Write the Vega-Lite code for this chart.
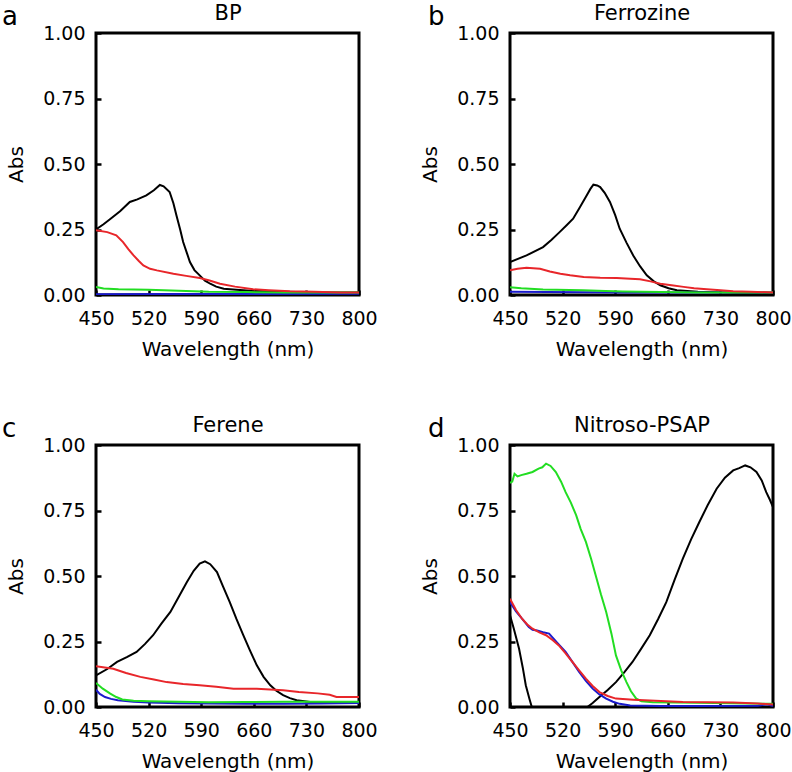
{
"$schema":"https://vega.github.io/schema/vega-lite/v6.json",
"background":"white",
"padding":{"left":0,"top":0,"right":0,"bottom":0},
"config":{
 "view":{"stroke":"black","strokeWidth":3},
 "axis":{"domain":false,"grid":false,"tickSize":-5,"tickWidth":2.5,"tickColor":"black","labelFont":"DejaVu Sans","labelFontSize":19,"labelColor":"black","titleFont":"DejaVu Sans","titleFontSize":20,"titleFontWeight":"normal","titleColor":"black","labelFlush":false,"labelOverlap":false},
 "axisY":{"titlePadding":16,"labelPadding":16},
 "axisX":{"titlePadding":11,"labelPadding":19},
 "line":{"strokeWidth":2}
},
"datasets":{
"bp":[
{"nm":450,"a":0.25,"s":"black"},{"nm":460,"a":0.27,"s":"black"},{"nm":469,"a":0.29,"s":"black"},{"nm":482,"a":0.32,"s":"black"},{"nm":495,"a":0.355,"s":"black"},{"nm":505,"a":0.365,"s":"black"},{"nm":517,"a":0.38,"s":"black"},{"nm":527,"a":0.4,"s":"black"},{"nm":535,"a":0.42,"s":"black"},{"nm":540,"a":0.415,"s":"black"},{"nm":548,"a":0.393,"s":"black"},{"nm":553,"a":0.35,"s":"black"},{"nm":557,"a":0.304,"s":"black"},{"nm":562,"a":0.25,"s":"black"},{"nm":566,"a":0.202,"s":"black"},{"nm":571,"a":0.16,"s":"black"},{"nm":575,"a":0.126,"s":"black"},{"nm":581,"a":0.095,"s":"black"},{"nm":588,"a":0.075,"s":"black"},{"nm":595,"a":0.055,"s":"black"},{"nm":602,"a":0.043,"s":"black"},{"nm":610,"a":0.032,"s":"black"},{"nm":620,"a":0.024,"s":"black"},{"nm":637,"a":0.02,"s":"black"},{"nm":660,"a":0.015,"s":"black"},{"nm":700,"a":0.012,"s":"black"},{"nm":750,"a":0.01,"s":"black"},{"nm":800,"a":0.01,"s":"black"},
{"nm":450,"a":0.003,"s":"blue"},{"nm":550,"a":0.004,"s":"blue"},{"nm":650,"a":0.004,"s":"blue"},{"nm":800,"a":0.005,"s":"blue"},
{"nm":450,"a":0.031,"s":"green"},{"nm":460,"a":0.025,"s":"green"},{"nm":480,"a":0.022,"s":"green"},{"nm":520,"a":0.02,"s":"green"},{"nm":560,"a":0.016,"s":"green"},{"nm":600,"a":0.012,"s":"green"},{"nm":650,"a":0.011,"s":"green"},{"nm":700,"a":0.01,"s":"green"},{"nm":750,"a":0.01,"s":"green"},{"nm":800,"a":0.01,"s":"green"},
{"nm":450,"a":0.247,"s":"red"},{"nm":465,"a":0.24,"s":"red"},{"nm":477,"a":0.228,"s":"red"},{"nm":486,"a":0.202,"s":"red"},{"nm":493,"a":0.175,"s":"red"},{"nm":500,"a":0.151,"s":"red"},{"nm":507,"a":0.13,"s":"red"},{"nm":513,"a":0.113,"s":"red"},{"nm":522,"a":0.1,"s":"red"},{"nm":531,"a":0.094,"s":"red"},{"nm":553,"a":0.081,"s":"red"},{"nm":570,"a":0.073,"s":"red"},{"nm":588,"a":0.065,"s":"red"},{"nm":600,"a":0.056,"s":"red"},{"nm":615,"a":0.043,"s":"red"},{"nm":635,"a":0.032,"s":"red"},{"nm":659,"a":0.022,"s":"red"},{"nm":680,"a":0.018,"s":"red"},{"nm":708,"a":0.014,"s":"red"},{"nm":740,"a":0.012,"s":"red"},{"nm":775,"a":0.01,"s":"red"},{"nm":800,"a":0.01,"s":"red"}
],
"ferrozine":[
{"nm":450,"a":0.126,"s":"black"},{"nm":472,"a":0.151,"s":"black"},{"nm":494,"a":0.183,"s":"black"},{"nm":505,"a":0.21,"s":"black"},{"nm":516,"a":0.24,"s":"black"},{"nm":525,"a":0.265,"s":"black"},{"nm":534,"a":0.291,"s":"black"},{"nm":543,"a":0.335,"s":"black"},{"nm":552,"a":0.38,"s":"black"},{"nm":557,"a":0.405,"s":"black"},{"nm":561,"a":0.421,"s":"black"},{"nm":566,"a":0.418,"s":"black"},{"nm":570,"a":0.412,"s":"black"},{"nm":576,"a":0.39,"s":"black"},{"nm":583,"a":0.355,"s":"black"},{"nm":590,"a":0.305,"s":"black"},{"nm":596,"a":0.253,"s":"black"},{"nm":605,"a":0.2,"s":"black"},{"nm":614,"a":0.151,"s":"black"},{"nm":623,"a":0.11,"s":"black"},{"nm":632,"a":0.075,"s":"black"},{"nm":641,"a":0.053,"s":"black"},{"nm":650,"a":0.037,"s":"black"},{"nm":661,"a":0.026,"s":"black"},{"nm":672,"a":0.018,"s":"black"},{"nm":700,"a":0.012,"s":"black"},{"nm":750,"a":0.009,"s":"black"},{"nm":800,"a":0.008,"s":"black"},
{"nm":450,"a":0.012,"s":"blue"},{"nm":500,"a":0.011,"s":"blue"},{"nm":600,"a":0.01,"s":"blue"},{"nm":700,"a":0.01,"s":"blue"},{"nm":800,"a":0.01,"s":"blue"},
{"nm":450,"a":0.03,"s":"green"},{"nm":465,"a":0.026,"s":"green"},{"nm":494,"a":0.021,"s":"green"},{"nm":547,"a":0.018,"s":"green"},{"nm":577,"a":0.015,"s":"green"},{"nm":600,"a":0.013,"s":"green"},{"nm":650,"a":0.011,"s":"green"},{"nm":700,"a":0.01,"s":"green"},{"nm":800,"a":0.01,"s":"green"},
{"nm":450,"a":0.094,"s":"red"},{"nm":460,"a":0.1,"s":"red"},{"nm":472,"a":0.104,"s":"red"},{"nm":490,"a":0.1,"s":"red"},{"nm":503,"a":0.09,"s":"red"},{"nm":517,"a":0.081,"s":"red"},{"nm":530,"a":0.075,"s":"red"},{"nm":548,"a":0.069,"s":"red"},{"nm":570,"a":0.066,"s":"red"},{"nm":592,"a":0.065,"s":"red"},{"nm":610,"a":0.062,"s":"red"},{"nm":623,"a":0.06,"s":"red"},{"nm":637,"a":0.052,"s":"red"},{"nm":650,"a":0.043,"s":"red"},{"nm":665,"a":0.037,"s":"red"},{"nm":681,"a":0.031,"s":"red"},{"nm":695,"a":0.026,"s":"red"},{"nm":712,"a":0.022,"s":"red"},{"nm":730,"a":0.018,"s":"red"},{"nm":747,"a":0.014,"s":"red"},{"nm":770,"a":0.012,"s":"red"},{"nm":800,"a":0.01,"s":"red"}
],
"ferene":[
{"nm":450,"a":0.121,"s":"black"},{"nm":465,"a":0.145,"s":"black"},{"nm":478,"a":0.172,"s":"black"},{"nm":491,"a":0.19,"s":"black"},{"nm":504,"a":0.21,"s":"black"},{"nm":515,"a":0.24,"s":"black"},{"nm":526,"a":0.274,"s":"black"},{"nm":537,"a":0.318,"s":"black"},{"nm":549,"a":0.363,"s":"black"},{"nm":560,"a":0.42,"s":"black"},{"nm":571,"a":0.477,"s":"black"},{"nm":580,"a":0.52,"s":"black"},{"nm":588,"a":0.547,"s":"black"},{"nm":595,"a":0.556,"s":"black"},{"nm":602,"a":0.545,"s":"black"},{"nm":611,"a":0.515,"s":"black"},{"nm":619,"a":0.46,"s":"black"},{"nm":628,"a":0.4,"s":"black"},{"nm":637,"a":0.335,"s":"black"},{"nm":646,"a":0.274,"s":"black"},{"nm":655,"a":0.215,"s":"black"},{"nm":664,"a":0.159,"s":"black"},{"nm":673,"a":0.115,"s":"black"},{"nm":682,"a":0.083,"s":"black"},{"nm":690,"a":0.062,"s":"black"},{"nm":699,"a":0.045,"s":"black"},{"nm":708,"a":0.034,"s":"black"},{"nm":717,"a":0.026,"s":"black"},{"nm":735,"a":0.019,"s":"black"},{"nm":760,"a":0.016,"s":"black"},{"nm":800,"a":0.015,"s":"black"},
{"nm":450,"a":0.066,"s":"blue"},{"nm":455,"a":0.05,"s":"blue"},{"nm":462,"a":0.038,"s":"blue"},{"nm":470,"a":0.031,"s":"blue"},{"nm":479,"a":0.026,"s":"blue"},{"nm":500,"a":0.02,"s":"blue"},{"nm":520,"a":0.017,"s":"blue"},{"nm":560,"a":0.014,"s":"blue"},{"nm":600,"a":0.013,"s":"blue"},{"nm":650,"a":0.012,"s":"blue"},{"nm":700,"a":0.012,"s":"blue"},{"nm":750,"a":0.013,"s":"blue"},{"nm":800,"a":0.015,"s":"blue"},
{"nm":450,"a":0.092,"s":"green"},{"nm":459,"a":0.07,"s":"green"},{"nm":469,"a":0.051,"s":"green"},{"nm":477,"a":0.038,"s":"green"},{"nm":485,"a":0.029,"s":"green"},{"nm":500,"a":0.024,"s":"green"},{"nm":520,"a":0.022,"s":"green"},{"nm":560,"a":0.02,"s":"green"},{"nm":600,"a":0.018,"s":"green"},{"nm":650,"a":0.019,"s":"green"},{"nm":700,"a":0.02,"s":"green"},{"nm":750,"a":0.02,"s":"green"},{"nm":800,"a":0.02,"s":"green"},
{"nm":450,"a":0.156,"s":"red"},{"nm":473,"a":0.146,"s":"red"},{"nm":490,"a":0.13,"s":"red"},{"nm":509,"a":0.115,"s":"red"},{"nm":527,"a":0.105,"s":"red"},{"nm":544,"a":0.095,"s":"red"},{"nm":566,"a":0.088,"s":"red"},{"nm":588,"a":0.083,"s":"red"},{"nm":610,"a":0.077,"s":"red"},{"nm":633,"a":0.07,"s":"red"},{"nm":664,"a":0.07,"s":"red"},{"nm":699,"a":0.064,"s":"red"},{"nm":720,"a":0.057,"s":"red"},{"nm":745,"a":0.052,"s":"red"},{"nm":761,"a":0.047,"s":"red"},{"nm":770,"a":0.038,"s":"red"},{"nm":800,"a":0.038,"s":"red"}
],
"psap":[
{"nm":450,"a":0.35,"s":"black","p":1},{"nm":455,"a":0.3,"s":"black","p":1},{"nm":462,"a":0.223,"s":"black","p":1},{"nm":467,"a":0.15,"s":"black","p":1},{"nm":471,"a":0.083,"s":"black","p":1},{"nm":476,"a":0.03,"s":"black","p":1},{"nm":479,"a":0.0,"s":"black","p":1},
{"nm":553,"a":0.0,"s":"black","p":2},{"nm":560,"a":0.015,"s":"black","p":2},{"nm":569,"a":0.038,"s":"black","p":2},{"nm":580,"a":0.065,"s":"black","p":2},{"nm":591,"a":0.095,"s":"black","p":2},{"nm":602,"a":0.132,"s":"black","p":2},{"nm":613,"a":0.172,"s":"black","p":2},{"nm":624,"a":0.22,"s":"black","p":2},{"nm":636,"a":0.274,"s":"black","p":2},{"nm":647,"a":0.335,"s":"black","p":2},{"nm":658,"a":0.4,"s":"black","p":2},{"nm":669,"a":0.485,"s":"black","p":2},{"nm":680,"a":0.566,"s":"black","p":2},{"nm":691,"a":0.64,"s":"black","p":2},{"nm":702,"a":0.706,"s":"black","p":2},{"nm":713,"a":0.77,"s":"black","p":2},{"nm":725,"a":0.833,"s":"black","p":2},{"nm":736,"a":0.875,"s":"black","p":2},{"nm":747,"a":0.903,"s":"black","p":2},{"nm":755,"a":0.912,"s":"black","p":2},{"nm":763,"a":0.922,"s":"black","p":2},{"nm":770,"a":0.915,"s":"black","p":2},{"nm":778,"a":0.897,"s":"black","p":2},{"nm":785,"a":0.865,"s":"black","p":2},{"nm":791,"a":0.82,"s":"black","p":2},{"nm":796,"a":0.79,"s":"black","p":2},{"nm":800,"a":0.763,"s":"black","p":2},
{"nm":450,"a":0.4,"s":"blue"},{"nm":458,"a":0.365,"s":"blue"},{"nm":466,"a":0.337,"s":"blue"},{"nm":475,"a":0.305,"s":"blue"},{"nm":480,"a":0.295,"s":"blue"},{"nm":486,"a":0.292,"s":"blue"},{"nm":494,"a":0.285,"s":"blue"},{"nm":502,"a":0.28,"s":"blue"},{"nm":513,"a":0.245,"s":"blue"},{"nm":524,"a":0.21,"s":"blue"},{"nm":533,"a":0.172,"s":"blue"},{"nm":542,"a":0.134,"s":"blue"},{"nm":551,"a":0.1,"s":"blue"},{"nm":560,"a":0.07,"s":"blue"},{"nm":569,"a":0.048,"s":"blue"},{"nm":578,"a":0.032,"s":"blue"},{"nm":587,"a":0.02,"s":"blue"},{"nm":596,"a":0.012,"s":"blue"},{"nm":610,"a":0.006,"s":"blue"},{"nm":650,"a":0.004,"s":"blue"},{"nm":700,"a":0.004,"s":"blue"},{"nm":780,"a":0.005,"s":"blue"},{"nm":792,"a":0.01,"s":"blue"},{"nm":800,"a":0.004,"s":"blue"},
{"nm":450,"a":0.855,"s":"green"},{"nm":453,"a":0.86,"s":"green"},{"nm":456,"a":0.89,"s":"green"},{"nm":460,"a":0.88,"s":"green"},{"nm":465,"a":0.885,"s":"green"},{"nm":472,"a":0.89,"s":"green"},{"nm":480,"a":0.897,"s":"green"},{"nm":488,"a":0.91,"s":"green"},{"nm":493,"a":0.915,"s":"green"},{"nm":498,"a":0.929,"s":"green"},{"nm":504,"a":0.92,"s":"green"},{"nm":511,"a":0.897,"s":"green"},{"nm":518,"a":0.86,"s":"green"},{"nm":524,"a":0.82,"s":"green"},{"nm":531,"a":0.78,"s":"green"},{"nm":538,"a":0.732,"s":"green"},{"nm":544,"a":0.68,"s":"green"},{"nm":551,"a":0.63,"s":"green"},{"nm":558,"a":0.565,"s":"green"},{"nm":564,"a":0.503,"s":"green"},{"nm":571,"a":0.43,"s":"green"},{"nm":578,"a":0.363,"s":"green"},{"nm":585,"a":0.28,"s":"green"},{"nm":591,"a":0.197,"s":"green"},{"nm":598,"a":0.14,"s":"green"},{"nm":605,"a":0.095,"s":"green"},{"nm":611,"a":0.06,"s":"green"},{"nm":618,"a":0.032,"s":"green"},{"nm":625,"a":0.022,"s":"green"},{"nm":640,"a":0.018,"s":"green"},{"nm":700,"a":0.016,"s":"green"},{"nm":800,"a":0.012,"s":"green"},
{"nm":450,"a":0.413,"s":"red"},{"nm":458,"a":0.37,"s":"red"},{"nm":466,"a":0.337,"s":"red"},{"nm":473,"a":0.315,"s":"red"},{"nm":480,"a":0.299,"s":"red"},{"nm":489,"a":0.285,"s":"red"},{"nm":498,"a":0.274,"s":"red"},{"nm":507,"a":0.255,"s":"red"},{"nm":515,"a":0.235,"s":"red"},{"nm":524,"a":0.205,"s":"red"},{"nm":533,"a":0.172,"s":"red"},{"nm":542,"a":0.14,"s":"red"},{"nm":551,"a":0.108,"s":"red"},{"nm":560,"a":0.08,"s":"red"},{"nm":569,"a":0.057,"s":"red"},{"nm":580,"a":0.042,"s":"red"},{"nm":591,"a":0.032,"s":"red"},{"nm":614,"a":0.028,"s":"red"},{"nm":636,"a":0.025,"s":"red"},{"nm":680,"a":0.019,"s":"red"},{"nm":747,"a":0.017,"s":"red"},{"nm":780,"a":0.013,"s":"red"},{"nm":800,"a":0.01,"s":"red"}
]
},
"columns":2,
"spacing":{"row":150,"column":151},
"bounds":"flush",
"concat":[
 {"width":263,"height":262,"resolve":{"axis":{"x":"independent","y":"independent"}},"layer":[
  {"data":{"name":"bp"},"mark":{"type":"line","clip":true},"encoding":{
   "x":{"field":"nm","type":"quantitative","scale":{"domain":[450,800],"nice":false},"axis":{"values":[450,520,590,660,730,800],"title":"Wavelength (nm)"}},
   "y":{"field":"a","type":"quantitative","scale":{"domain":[0,1],"nice":false},"axis":{"values":[0,0.25,0.5,0.75,1],"format":".2f","title":"Abs"}},
   "color":{"field":"s","type":"nominal","scale":{"domain":["black","blue","green","red"],"range":["#000000","#1a1acc","#22dd22","#e8262a"]},"legend":null},
   "detail":{"field":"p"}}},
  {"data":{"values":[{"lab":"a"}]},"mark":{"type":"text","font":"DejaVu Sans","fontSize":26,"align":"left","baseline":"alphabetic","color":"black"},"encoding":{
   "x":{"datum":325,"type":"quantitative","axis":{"orient":"top","labels":false,"ticks":false,"domain":false,"title":"BP","titleFontSize":21,"titlePadding":10}},
   "y":{"datum":1.03,"type":"quantitative","axis":null},"text":{"field":"lab"}}}
 ]},
 {"width":263,"height":262,"resolve":{"axis":{"x":"independent","y":"independent"}},"layer":[
  {"data":{"name":"ferrozine"},"mark":{"type":"line","clip":true},"encoding":{
   "x":{"field":"nm","type":"quantitative","scale":{"domain":[450,800],"nice":false},"axis":{"values":[450,520,590,660,730,800],"title":"Wavelength (nm)"}},
   "y":{"field":"a","type":"quantitative","scale":{"domain":[0,1],"nice":false},"axis":{"values":[0,0.25,0.5,0.75,1],"format":".2f","title":"Abs"}},
   "color":{"field":"s","type":"nominal","scale":{"domain":["black","blue","green","red"],"range":["#000000","#1a1acc","#22dd22","#e8262a"]},"legend":null},
   "detail":{"field":"p"}}},
  {"data":{"values":[{"lab":"b"}]},"mark":{"type":"text","font":"DejaVu Sans","fontSize":26,"align":"left","baseline":"alphabetic","color":"black"},"encoding":{
   "x":{"datum":341,"type":"quantitative","axis":{"orient":"top","labels":false,"ticks":false,"domain":false,"title":"Ferrozine","titleFontSize":21,"titlePadding":10}},
   "y":{"datum":1.03,"type":"quantitative","axis":null},"text":{"field":"lab"}}}
 ]},
 {"width":263,"height":262,"resolve":{"axis":{"x":"independent","y":"independent"}},"layer":[
  {"data":{"name":"ferene"},"mark":{"type":"line","clip":true},"encoding":{
   "x":{"field":"nm","type":"quantitative","scale":{"domain":[450,800],"nice":false},"axis":{"values":[450,520,590,660,730,800],"title":"Wavelength (nm)"}},
   "y":{"field":"a","type":"quantitative","scale":{"domain":[0,1],"nice":false},"axis":{"values":[0,0.25,0.5,0.75,1],"format":".2f","title":"Abs"}},
   "color":{"field":"s","type":"nominal","scale":{"domain":["black","blue","green","red"],"range":["#000000","#1a1acc","#22dd22","#e8262a"]},"legend":null},
   "detail":{"field":"p"}}},
  {"data":{"values":[{"lab":"c"}]},"mark":{"type":"text","font":"DejaVu Sans","fontSize":26,"align":"left","baseline":"alphabetic","color":"black"},"encoding":{
   "x":{"datum":325,"type":"quantitative","axis":{"orient":"top","labels":false,"ticks":false,"domain":false,"title":"Ferene","titleFontSize":21,"titlePadding":10}},
   "y":{"datum":1.03,"type":"quantitative","axis":null},"text":{"field":"lab"}}}
 ]},
 {"width":263,"height":262,"resolve":{"axis":{"x":"independent","y":"independent"}},"layer":[
  {"data":{"name":"psap"},"mark":{"type":"line","clip":true},"encoding":{
   "x":{"field":"nm","type":"quantitative","scale":{"domain":[450,800],"nice":false},"axis":{"values":[450,520,590,660,730,800],"title":"Wavelength (nm)"}},
   "y":{"field":"a","type":"quantitative","scale":{"domain":[0,1],"nice":false},"axis":{"values":[0,0.25,0.5,0.75,1],"format":".2f","title":"Abs"}},
   "color":{"field":"s","type":"nominal","scale":{"domain":["black","blue","green","red"],"range":["#000000","#1a1acc","#22dd22","#e8262a"]},"legend":null},
   "detail":{"field":"p"}}},
  {"data":{"values":[{"lab":"d"}]},"mark":{"type":"text","font":"DejaVu Sans","fontSize":26,"align":"left","baseline":"alphabetic","color":"black"},"encoding":{
   "x":{"datum":341,"type":"quantitative","axis":{"orient":"top","labels":false,"ticks":false,"domain":false,"title":"Nitroso-PSAP","titleFontSize":21,"titlePadding":10}},
   "y":{"datum":1.03,"type":"quantitative","axis":null},"text":{"field":"lab"}}}
 ]}
]
}
